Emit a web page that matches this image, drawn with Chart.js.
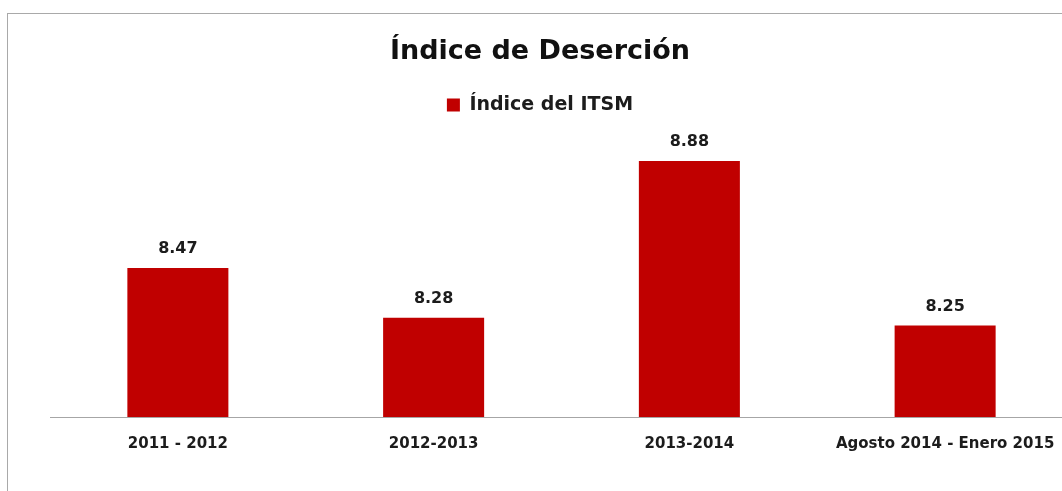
<!DOCTYPE html>
<html>
<head>
<meta charset="utf-8">
<script src="https://cdn.jsdelivr.net/npm/chart.js@4"></script>
<style>
  html, body { margin: 0; padding: 0; overflow: hidden; background: #ffffff; }
  #frame { position: absolute; left: 7px; top: 13px; width: 1200px; height: 600px; border: 1px solid #a9a9a9; }
  #wrap { position: absolute; left: 0; top: 0; width: 1080px; height: 491px; }
</style>
</head>
<body>
<div id="frame"></div>
<div id="wrap"><canvas id="chart"></canvas></div>
<script>
const chartTitle = "Índice de Deserción";
const seriesLabel = "Índice del ITSM";
const categories = ["2011 - 2012", "2012-2013", "2013-2014", "Agosto 2014 - Enero 2015"];
const indiceValues = [8.47, 8.28, 8.88, 8.25];
const yRange = [7.9, 9.02];

const BAR_RED = "#c00000";
const TEXT_DARK = "#1c1c1c";

// labels over each bar, same font as the axis text
const barValueLabels = {
  id: "barValueLabels",
  afterDatasetsDraw(chart) {
    const ctx = chart.ctx;
    const meta = chart.getDatasetMeta(0);
    ctx.save();
    ctx.font = "bold 16px 'DejaVu Sans'";
    ctx.fillStyle = TEXT_DARK;
    ctx.textAlign = "center";
    ctx.textBaseline = "alphabetic";
    meta.data.forEach((bar, i) => {
      const value = chart.data.datasets[0].data[i];
      ctx.fillText(Number(value).toFixed(2), bar.x, bar.y - 15);
    });
    ctx.restore();
  }
};

new Chart(document.getElementById("chart"), {
  type: "bar",
  data: {
    labels: categories,
    datasets: [
      {
        label: seriesLabel,
        data: indiceValues,
        backgroundColor: BAR_RED,
        borderWidth: 0,
        categoryPercentage: 1,
        barPercentage: 0.395
      }
    ]
  },
  options: {
    responsive: true,
    maintainAspectRatio: false,
    animation: false,
    layout: { padding: { left: 7, right: 7, top: 0, bottom: 20 } },
    scales: {
      x: {
        grid: { display: false, drawTicks: false },
        border: { display: true, color: "#a6a6a6", width: 1 },
        ticks: {
          color: TEXT_DARK,
          padding: 18,
          autoSkip: false,
          maxRotation: 0,
          minRotation: 0,
          font: { family: "DejaVu Sans", size: 15, weight: "bold" }
        }
      },
      y: {
        min: yRange[0],
        max: yRange[1],
        grid: { display: false },
        border: { display: false },
        ticks: { display: false },
        afterFit: (scale) => { scale.width = 43; }
      }
    },
    plugins: {
      title: {
        display: true,
        text: chartTitle,
        color: "#111111",
        font: { family: "DejaVu Sans", size: 27, weight: "bold" },
        padding: { top: 36, bottom: 17 }
      },
      legend: {
        position: "top",
        labels: {
          boxWidth: 13,
          boxHeight: 13,
          color: TEXT_DARK,
          padding: 10,
          font: { family: "DejaVu Sans", size: 19, weight: "bold" }
        }
      },
      tooltip: { enabled: false }
    }
  },
  plugins: [barValueLabels]
});
</script>
</body>
</html>
